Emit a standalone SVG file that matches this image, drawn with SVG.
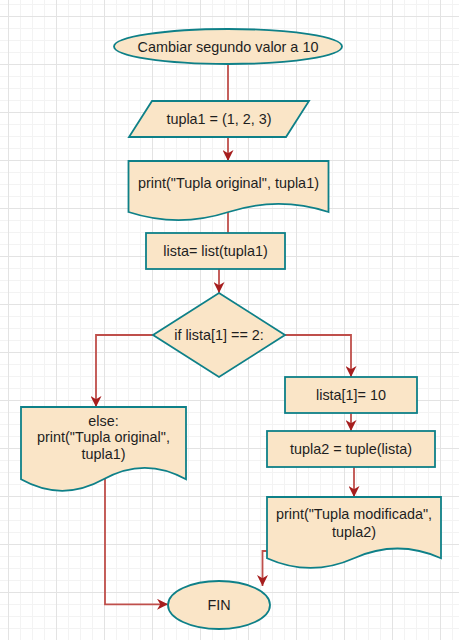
<svg xmlns="http://www.w3.org/2000/svg" width="459" height="640" viewBox="0 0 459 640">
  <defs>
    <pattern id="grid" x="8" y="16" width="48" height="48" patternUnits="userSpaceOnUse">
      <rect x="12" y="0" width="1" height="48" fill="#f3f3f3"/>
      <rect x="24" y="0" width="1" height="48" fill="#f3f3f3"/>
      <rect x="36" y="0" width="1" height="48" fill="#f3f3f3"/>
      <rect x="0" y="12" width="48" height="1" fill="#f3f3f3"/>
      <rect x="0" y="24" width="48" height="1" fill="#f3f3f3"/>
      <rect x="0" y="36" width="48" height="1" fill="#f3f3f3"/>
      <rect x="0" y="0" width="1" height="48" fill="#e3e3e3"/>
      <rect x="0" y="0" width="48" height="1" fill="#e3e3e3"/>
    </pattern>
    <marker id="arrow" viewBox="0 0 10 10" refX="10" refY="5" markerWidth="11" markerHeight="11" markerUnits="userSpaceOnUse" orient="auto">
      <path d="M0,0 L10,5 L0,10 L3,5 Z" fill="#a61e1e"/>
    </marker>
  </defs>
  <style>
    .shape { fill: #fae5c7; stroke: #0e8088; stroke-width: 1.8; }
    .edge { fill: none; stroke: #bf4f4b; stroke-width: 1.8; }
    .arr { marker-end: url(#arrow); }
    .label { font-family: "Liberation Sans", Arial, sans-serif; font-size: 14.4px; fill: #1e1e1e; text-anchor: middle; }
  </style>
  <rect x="0" y="0" width="459" height="640" fill="#ffffff"/>
  <rect x="0" y="0" width="459" height="640" fill="url(#grid)"/>

  <g id="connectors">
    <path class="edge" d="M228,64 L228,101"/>
    <path class="edge arr" d="M228,137 L228,161"/>
    <path class="edge" d="M228,212 L228,233"/>
    <path class="edge arr" d="M219,269 L219,293"/>
    <path class="edge arr" d="M153,335 L96,335 L96,407"/>
    <path class="edge arr" d="M285,335 L351,335 L351,377"/>
    <path class="edge arr" d="M351,413 L351,431"/>
    <path class="edge arr" d="M354,467 L354,497"/>
    <path class="edge arr" d="M268,551 L262.5,551 L262.5,586"/>
    <path class="edge arr" d="M105,477 L105,604.3 L168,604.3"/>
  </g>

  <g id="start">
    <ellipse class="shape" cx="228" cy="46.5" rx="114" ry="17.5"/>
    <text class="label" x="228" y="51.5">Cambiar segundo valor a 10</text>
  </g>

  <g id="input-tupla1">
    <polygon class="shape" points="152,101 309,101 286,137 129,137"/>
    <text class="label" x="219" y="124">tupla1 = (1, 2, 3)</text>
  </g>

  <g id="print-original">
    <path class="shape" d="M128.5,161 H328.5 V212 Q278.5,195.8 228.5,212 Q178.5,228.2 128.5,212 Z"/>
    <text class="label" x="228.5" y="188">print("Tupla original", tupla1)</text>
  </g>

  <g id="lista">
    <rect class="shape" x="146" y="233" width="139" height="36"/>
    <text class="label" x="215.5" y="256">lista= list(tupla1)</text>
  </g>

  <g id="decision">
    <polygon class="shape" points="219,293 285,335 219,377 153,335"/>
    <text class="label" x="219" y="340">if lista[1] == 2:</text>
  </g>

  <g id="else-print">
    <path class="shape" d="M21,407 H186 V479.3 Q144.75,456.3 103.5,479.3 Q62.25,502.3 21,479.3 Z"/>
    <text class="label" x="103.5" y="425.7">else:</text>
    <text class="label" x="103.5" y="442.2">print("Tupla original",</text>
    <text class="label" x="103.5" y="458.7">tupla1)</text>
  </g>

  <g id="set-lista">
    <rect class="shape" x="285" y="377" width="132" height="36"/>
    <text class="label" x="351" y="400">lista[1]= 10</text>
  </g>

  <g id="tupla2">
    <rect class="shape" x="267" y="431" width="168" height="36"/>
    <text class="label" x="351" y="454">tupla2 = tuple(lista)</text>
  </g>

  <g id="print-modificada">
    <path class="shape" d="M267,497 H441 V558.2 Q397.5,538.8 354,558.2 Q310.5,577.6 267,558.2 Z"/>
    <text class="label" x="354" y="519">print("Tupla modificada",</text>
    <text class="label" x="354" y="536.7">tupla2)</text>
  </g>

  <g id="fin">
    <ellipse class="shape" cx="219" cy="605" rx="51" ry="24"/>
    <text class="label" x="219" y="610">FIN</text>
  </g>
</svg>
